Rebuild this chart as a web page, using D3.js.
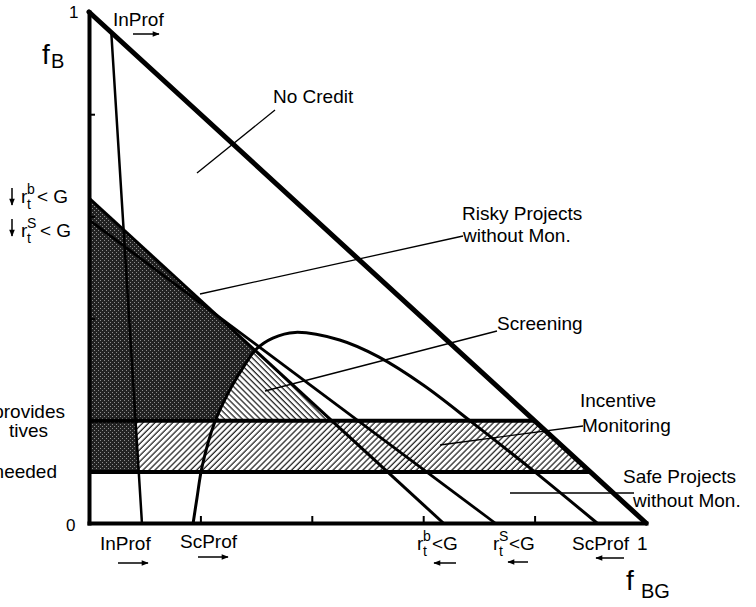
<!DOCTYPE html>
<html>
<head>
<meta charset="utf-8">
<script src="https://cdn.jsdelivr.net/npm/d3@7"></script>
<style>
  body { margin: 0; background: #fff; }
  svg text { font-family: "Liberation Sans", Arial, Helvetica, sans-serif; fill: #000; }
</style>
</head>
<body>
<svg id="chart" width="756" height="607"></svg>
<script>
// Regime boundaries in the (f_BG, f_B) unit simplex
const axisTicks = [0.2, 0.4, 0.6, 0.8];
const budgetLine = [[0, 1], [1, 0]];              // f_B + f_BG = 1
const inProfLine = [[0.04, 0.96], [0.095, 0]];     // InProf threshold
const rBLine = [[0, 0.636], [0.636, 0]];           // r_t^b < G
const rSLine = [[0, 0.593], [0.729, 0]];           // r_t^s < G
const scProfCurve = [
  [0.187, 0], [0.194, 0.05], [0.203, 0.11], [0.226, 0.198], [0.255, 0.265],
  [0.28, 0.31], [0.30, 0.34], [0.33, 0.362], [0.37, 0.373], [0.45, 0.358],
  [0.52, 0.325], [0.60, 0.27], [0.69, 0.195], [0.797, 0.103], [0.912, 0]
];
const monitoringBand = [0.1, 0.2];                 // lower / upper f_B limits

const svg = d3.select("#chart");
const x = d3.scaleLinear().domain([0, 1]).range([89, 646]);
const y = d3.scaleLinear().domain([0, 1]).range([523, 12]);

const line = d3.line().x(d => x(d[0])).y(d => y(d[1]));
const curve = d3.line().x(d => x(d[0])).y(d => y(d[1])).curve(d3.curveCatmullRom.alpha(0.5));

// x on a straight segment at a given f_B
function xAt(seg, fb) {
  const [[x0, y0], [x1, y1]] = seg;
  return x0 + (x1 - x0) * (fb - y0) / (y1 - y0);
}

// ---- fill patterns ----
const defs = svg.append("defs");
const dots = defs.append("pattern").attr("id", "stipple")
  .attr("patternUnits", "userSpaceOnUse").attr("width", 4).attr("height", 4);
dots.append("rect").attr("width", 4).attr("height", 4).attr("fill", "#222");
dots.append("rect").attr("x", 0).attr("y", 0).attr("width", 1).attr("height", 1).attr("fill", "#8c8c8c");
dots.append("rect").attr("x", 2).attr("y", 2).attr("width", 1).attr("height", 1).attr("fill", "#8c8c8c");

function hatch(id, angle) {
  const p = defs.append("pattern").attr("id", id)
    .attr("patternUnits", "userSpaceOnUse").attr("width", 4.2).attr("height", 4.2)
    .attr("patternTransform", `rotate(${angle})`);
  p.append("rect").attr("width", 4.2).attr("height", 4.2).attr("fill", "#fff");
  p.append("line").attr("x1", 1).attr("y1", 0).attr("x2", 1).attr("y2", 4.2)
    .attr("stroke", "#000").attr("stroke-width", 1.1);
}
hatch("hatchFwd", 45);   // "////"
hatch("hatchBack", -45); // "\\\\"

defs.append("clipPath").attr("id", "insideScProf")
  .append("path").attr("d", curve(scProfCurve) + "Z");

const arrowHead = defs.append("marker").attr("id", "head")
  .attr("markerUnits", "userSpaceOnUse").attr("viewBox", "0 0 10 10")
  .attr("refX", 9).attr("refY", 5).attr("markerWidth", 9).attr("markerHeight", 7)
  .attr("orient", "auto");
arrowHead.append("path").attr("d", "M0,1 L10,5 L0,9 Z").attr("fill", "#000");

const [bandLo, bandHi] = monitoringBand;

// ---- regions ----
// risky-without-monitoring region (stippled)
const darkPoly = [
  rBLine[0], [xAt(rBLine, bandHi), bandHi], [xAt(inProfLine, bandHi), bandHi],
  [xAt(inProfLine, bandLo), bandLo], [0, bandLo]
];
svg.append("path").attr("d", line(darkPoly) + "Z").attr("fill", "url(#stipple)");

// screening region: inside ScProf, below r_t^b, above the band
const screenPoly = [rBLine[0], [xAt(rBLine, bandHi), bandHi], [0, bandHi]];
svg.append("path").attr("d", line(screenPoly) + "Z")
  .attr("clip-path", "url(#insideScProf)").attr("fill", "url(#hatchBack)");

// incentive monitoring band
const bandPoly = [
  [xAt(inProfLine, bandHi), bandHi], [xAt(budgetLine, bandHi), bandHi],
  [xAt(budgetLine, bandLo), bandLo], [xAt(inProfLine, bandLo), bandLo]
];
svg.append("path").attr("d", line(bandPoly) + "Z").attr("fill", "url(#hatchFwd)");

// ---- boundary lines ----
const lines = svg.append("g").attr("fill", "none").attr("stroke", "#000");
lines.append("path").attr("d", line(inProfLine)).attr("stroke-width", 2.5);
lines.append("path").attr("d", line(rSLine)).attr("stroke-width", 2.8);
lines.append("path").attr("d", line(rBLine)).attr("stroke-width", 3);
lines.append("path").attr("d", curve(scProfCurve)).attr("stroke-width", 3);
monitoringBand.forEach(b => {
  lines.append("path").attr("d", line([[0, b], [xAt(budgetLine, b), b]])).attr("stroke-width", 4);
});
lines.append("path").attr("d", line(budgetLine)).attr("stroke-width", 5).attr("stroke-linecap", "round");

// ---- axes ----
const xAxis = svg.append("g").attr("transform", `translate(0,${y(0)})`)
  .call(d3.axisBottom(x).tickValues(axisTicks).tickSize(-7).tickSizeOuter(0).tickFormat(() => ""));
const yAxis = svg.append("g").attr("transform", `translate(${x(0)},0)`)
  .call(d3.axisLeft(y).tickValues(axisTicks).tickSize(-6).tickSizeOuter(0).tickFormat(() => ""));
[xAxis, yAxis].forEach(a => {
  a.select(".domain").attr("stroke-width", 4).attr("stroke-linecap", "square");
  a.selectAll(".tick line").attr("stroke-width", 2);
});

// ---- text ----
function txt(str, tx, ty, size, anchor) {
  return svg.append("text").attr("x", tx).attr("y", ty)
    .attr("font-size", size).attr("text-anchor", anchor || "start").text(str);
}
function arrow(x1, y1, x2, y2) {
  svg.append("line").attr("x1", x1).attr("y1", y1).attr("x2", x2).attr("y2", y2)
    .attr("stroke", "#000").attr("stroke-width", 1.5).attr("marker-end", "url(#head)");
}
function leader(x1, y1, x2, y2) {
  svg.append("line").attr("x1", x1).attr("y1", y1).attr("x2", x2).attr("y2", y2)
    .attr("stroke", "#000").attr("stroke-width", 1.3);
}
// r with superscript and subscript t
function rLabel(rx, base, sup, tail, tailX) {
  txt("r", rx, base, 19);
  txt(sup, rx + 6, base - 9, 14);
  txt("t", rx + 6, base + 6, 14);
  txt(tail, tailX, base, 19);
}

// axis titles and end values
txt("f", 42, 64, 28);
txt("B", 51, 68, 20);
txt("f", 626, 590, 28);
txt("BG", 641, 598, 20);
txt("1", 69, 18, 17);
txt("0", 66, 531, 17);

// top InProf marker
txt("InProf", 113, 26, 19);
arrow(133, 34, 159, 34);

// region names
txt("No Credit", 273, 103, 19);
leader(275, 110, 197, 173);

txt("Risky Projects", 462, 220, 19);
txt("without Mon.", 463, 242, 19);
leader(463, 236, 200, 294);

txt("Screening", 497, 330, 19);
leader(497, 331, 265, 391);

txt("Incentive", 580, 407, 19);
txt("Monitoring", 582, 432, 19);
leader(583, 426, 440, 445);

txt("Safe Projects", 623, 483, 19);
txt("without  Mon.", 633, 507, 19);
leader(510, 493, 634, 493);

// left-side conditions
arrow(12, 188, 12, 205);
rLabel(21, 203, "b", "< G", 37);
arrow(12, 219, 12, 236);
rLabel(21, 237, "S", "< G", 40);

txt("provides", 65, 418, 19, "end");
txt("tives", 48, 437, 19, "end");
txt("needed", 57, 478, 19, "end");

// bottom threshold markers
txt("InProf", 100, 550, 19);
arrow(118, 563, 148, 563);
txt("ScProf", 180, 548, 19);
arrow(198, 557, 228, 557);
rLabel(417, 550, "b", "<G", 432);
arrow(456, 563, 434, 563);
rLabel(493, 550, "S", "<G", 509);
arrow(528, 562, 508, 562);
txt("ScProf", 572, 550, 19);
txt("1", 637, 550, 19);
arrow(624, 558, 596, 558);
</script>
</body>
</html>
